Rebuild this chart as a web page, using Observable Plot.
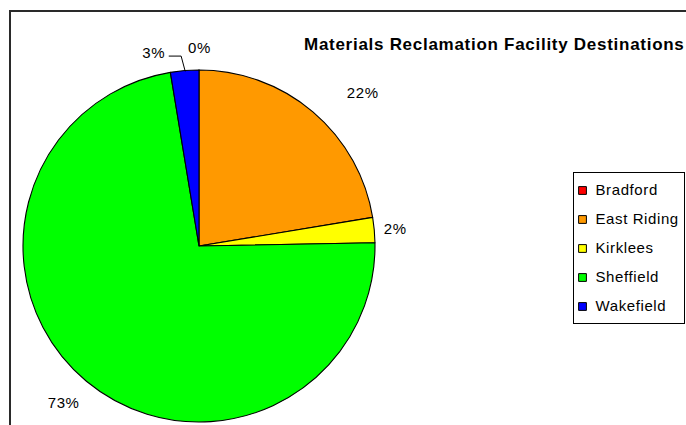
<!DOCTYPE html>
<html>
<head>
<meta charset="utf-8">
<script src="https://cdn.jsdelivr.net/npm/d3@7"></script>
<script src="https://cdn.jsdelivr.net/npm/@observablehq/plot@0.6"></script>
<style>
  body { margin: 0; background: #fff; font-family: "Liberation Sans", Arial, sans-serif; }
  #chart { position: relative; width: 686px; height: 425px; overflow: hidden; background: #fff; }
  #frame { position: absolute; left: 9px; top: 10px; width: 720px; height: 460px; border: 2px solid #2a2a2a; box-sizing: border-box; }
  #pie, #legend { position: absolute; }
  #pie { left: 0; top: 0; }
  #legend { left: 573px; top: 172px; border: 1px solid #000; background: #fff; line-height: 0; }
  #title { position: absolute; left: 304px; top: 35px; font-weight: bold; font-size: 17px; letter-spacing: 0.72px; color: #000; white-space: nowrap; }
</style>
</head>
<body>
<div id="chart">
  <div id="frame"></div>
  <div id="title">Materials Reclamation Facility Destinations</div>
  <div id="pie"></div>
  <div id="legend"></div>
</div>
<script>
// Share of material sent to each reclamation facility (percent)
const sites = ["Bradford", "East Riding", "Kirklees", "Sheffield", "Wakefield"];
const shares = [0, 22.4, 2.3, 72.7, 2.6];
const siteColors = ["#ff0000", "#ff9900", "#ffff00", "#00ff00", "#0000ff"];

const rows = sites.map((name, i) => ({name, value: shares[i], color: siteColors[i]}));

// Slice angles: start at 12 o'clock and run clockwise
const arcs = d3.pie().sort(null).value(d => d.value).startAngle(0).endAngle(2 * Math.PI)(rows);

const R = 176; // pie radius in pixels
// Label nudges (pixels) so each label clears its slice
const nudge = {
  "Bradford": [0, -5],
  "East Riding": [38, -6],
  "Kirklees": [3, 0],
  "Sheffield": [-12, 8],
  "Wakefield": [-30, 0]
};
const labels = arcs.map(a => {
  const m = (a.startAngle + a.endAngle) / 2;
  const [nx, ny] = nudge[a.data.name];
  return {
    text: `${Math.round(a.data.value)}%`,
    x: 1.1 * Math.sin(m) + nx / R,
    y: 1.1 * Math.cos(m) - ny / R
  };
});

// Leader line from the Wakefield label to its slice
const wk = arcs[4];
const wm = (wk.startAngle + wk.endAngle) / 2;
const leader = [
  {x: Math.sin(wm) - 16 / R, y: Math.cos(wm) + 15 / R},
  {x: Math.sin(wm) - 4 / R, y: Math.cos(wm) + 15 / R},
  {x: Math.sin(wm), y: Math.cos(wm)}
];

// Custom mark drawing the pie slices with d3.arc through Plot's scales
function pieSlices(index, scales) {
  const cx = scales.x(0), cy = scales.y(0);
  const r = scales.x(1) - scales.x(0);
  const arc = d3.arc().innerRadius(0).outerRadius(r);
  const g = d3.create("svg:g").attr("transform", `translate(${cx},${cy})`);
  g.selectAll("path")
    .data(arcs)
    .join("path")
    .attr("d", arc)
    .attr("fill", d => d.data.color)
    .attr("stroke", "#000")
    .attr("stroke-width", 1.1)
    .attr("stroke-linejoin", "round");
  return g.node();
}

const pie = Plot.plot({
  width: 686,
  height: 425,
  margin: 0,
  x: {domain: [-1, 1], range: [199 - R, 199 + R], axis: null},
  y: {domain: [-1, 1], range: [246 + R, 246 - R], axis: null},
  style: {background: "transparent", overflow: "visible", letterSpacing: "0.6px"},
  marks: [
    pieSlices,
    Plot.line(leader, {x: "x", y: "y", stroke: "#000", strokeWidth: 1}),
    Plot.text(labels, {
      x: "x", y: "y", text: "text",
      fontSize: 15, fill: "#000",
      fontFamily: "Liberation Sans, Arial, sans-serif"
    })
  ]
});
document.getElementById("pie").append(pie);

// Legend: square swatches and site names
const legend = Plot.plot({
  width: 110,
  height: 150,
  margin: 0,
  x: {domain: [0, 110], range: [0, 110], axis: null},
  y: {type: "point", domain: sites, range: [15, 134], padding: 0, axis: null},
  style: {background: "#fff", overflow: "visible", letterSpacing: "0.6px"},
  marks: [
    Plot.dot(rows, {x: () => 8, y: "name", symbol: "square", r: 4.4, fill: "color", stroke: "#000", strokeWidth: 1}),
    Plot.text(rows, {
      x: () => 21, y: "name", text: "name",
      textAnchor: "start", fontSize: 15, fill: "#000",
      fontFamily: "Liberation Sans, Arial, sans-serif"
    })
  ]
});
document.getElementById("legend").append(legend);
</script>
</body>
</html>
